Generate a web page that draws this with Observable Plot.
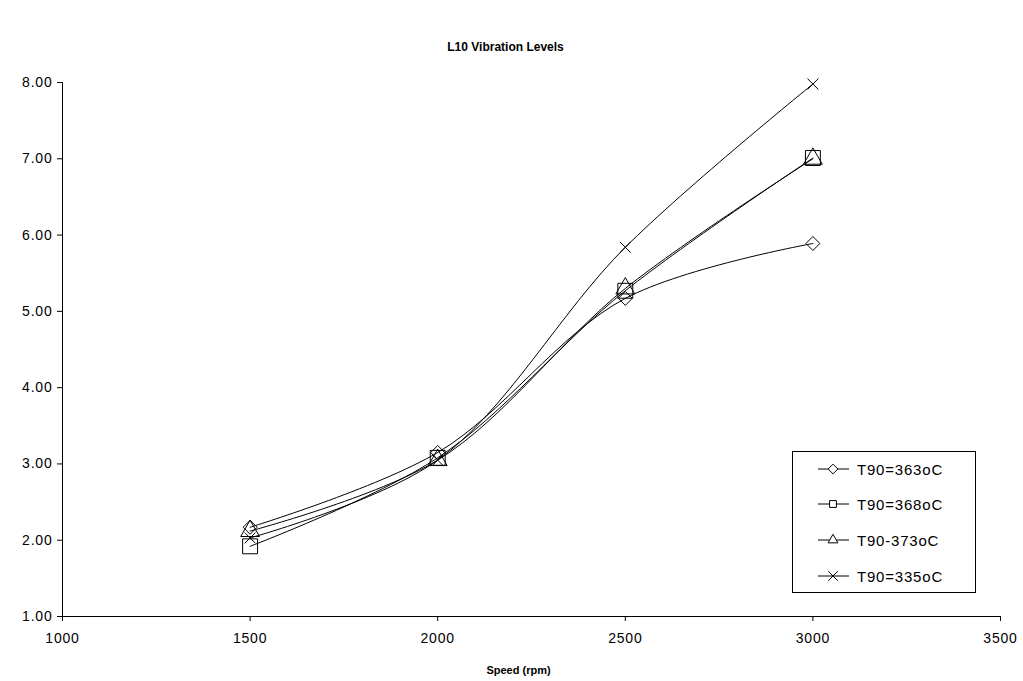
<!DOCTYPE html>
<html>
<head>
<meta charset="utf-8">
<script src="https://cdn.jsdelivr.net/npm/d3@7"></script>
<script src="https://cdn.jsdelivr.net/npm/@observablehq/plot@0.6"></script>
<style>
  html, body { margin: 0; padding: 0; background: #fff; }
  #wrap { position: relative; width: 1023px; height: 681px; font-family: "Liberation Sans", Arial, sans-serif; }
  #legend { position: absolute; left: 792px; top: 451px; width: 184px; height: 142px; border: 1px solid #000; background: #fff; box-sizing: border-box; }
  .item { position: absolute; left: 24px; height: 20px; display: flex; align-items: center; font-size: 15px; letter-spacing: 0.8px; color: #000; }
  .item span { margin-left: 8px; }
</style>
</head>
<body>
<div id="wrap"></div>
<script>
const title = "L10 Vibration Levels";
const xLabel = "Speed (rpm)";
const speeds = [1500, 2000, 2500, 3000];
const seriesNames = ["T90=363oC", "T90=368oC", "T90-373oC", "T90=335oC"];
const s363 = [2.17, 3.15, 5.17, 5.89];
const s368 = [1.92, 3.08, 5.27, 7.01];
const s373 = [2.12, 3.05, 5.30, 7.00];
const s335 = [2.03, 3.05, 5.84, 7.98];
const xTicks = [1000, 1500, 2000, 2500, 3000, 3500];
const yTicks = [1, 2, 3, 4, 5, 6, 7, 8];

const symbols = ["diamond2", "square2", "triangle2", "times"];
const radii = [6.3, 9.5, 9, 5];
const allSeries = [s363, s368, s373, s335];
const data = [];
allSeries.forEach((vals, i) => vals.forEach((v, j) => data.push({series: seriesNames[i], speed: speeds[j], value: v})));

const marks = [
  Plot.ruleY([1], {stroke: "#000"}),
  Plot.ruleX([1000], {stroke: "#000"}),
  Plot.text([title], {frameAnchor: "top", dy: -40, dx: -26, fontWeight: "bold", fontSize: 12, fill: "#000"}),
  Plot.text([xLabel], {frameAnchor: "bottom", dy: 57, dx: -13, fontWeight: "bold", fontSize: 11, fill: "#000"}),
];
seriesNames.forEach((name, i) => {
  const d = data.filter(r => r.series === name);
  marks.push(Plot.line(d, {x: "speed", y: "value", curve: "catmull-rom", stroke: "#000", strokeWidth: 1}));
  marks.push(Plot.dot(d, {x: "speed", y: "value", symbol: () => symbols[i], r: radii[i], stroke: "#000", fill: "none", strokeWidth: 1}));
});

const chart = Plot.plot({
  width: 1023,
  height: 681,
  marginLeft: 62,
  marginRight: 23,
  marginTop: 82,
  marginBottom: 65,
  style: {fontFamily: "Liberation Sans, Arial, sans-serif", fontSize: "14px", color: "#000", background: "#fff", letterSpacing: "0.8px"},
  x: {domain: [1000, 3500], ticks: xTicks, tickFormat: d => String(d), tickSize: 5, tickPadding: 12, label: null},
  y: {domain: [1, 8], ticks: yTicks, tickFormat: d => d.toFixed(2), tickSize: 5, tickPadding: 5, label: null},
  marks
});
document.getElementById("wrap").appendChild(chart);
chart.querySelectorAll("text").forEach(t => { if (t.textContent === title || t.textContent === xLabel) t.style.letterSpacing = "0px"; });

// legend
const legend = document.createElement("div");
legend.id = "legend";
const tops = [7, 42, 78, 114];
seriesNames.forEach((name, i) => {
  const item = document.createElement("div");
  item.className = "item";
  item.style.top = tops[i] + "px";
  const svg = d3.create("svg").attr("width", 32).attr("height", 20);
  svg.append("line").attr("x1", 1).attr("x2", 32).attr("y1", 10).attr("y2", 10).attr("stroke", "#000");
  const sym = {diamond2: d3.symbolDiamond2, square2: d3.symbolSquare2, triangle2: d3.symbolTriangle2, times: d3.symbolTimes}[symbols[i]];
  const sizes = [60, 60, 70, 60];
  svg.append("path").attr("d", d3.symbol(sym, sizes[i])()).attr("transform", "translate(16,10)").attr("fill", i === 3 ? "none" : "#fff").attr("stroke", "#000");
  item.appendChild(svg.node());
  const sp = document.createElement("span");
  sp.textContent = name;
  item.appendChild(sp);
  legend.appendChild(item);
});
document.getElementById("wrap").appendChild(legend);
</script>
</body>
</html>
